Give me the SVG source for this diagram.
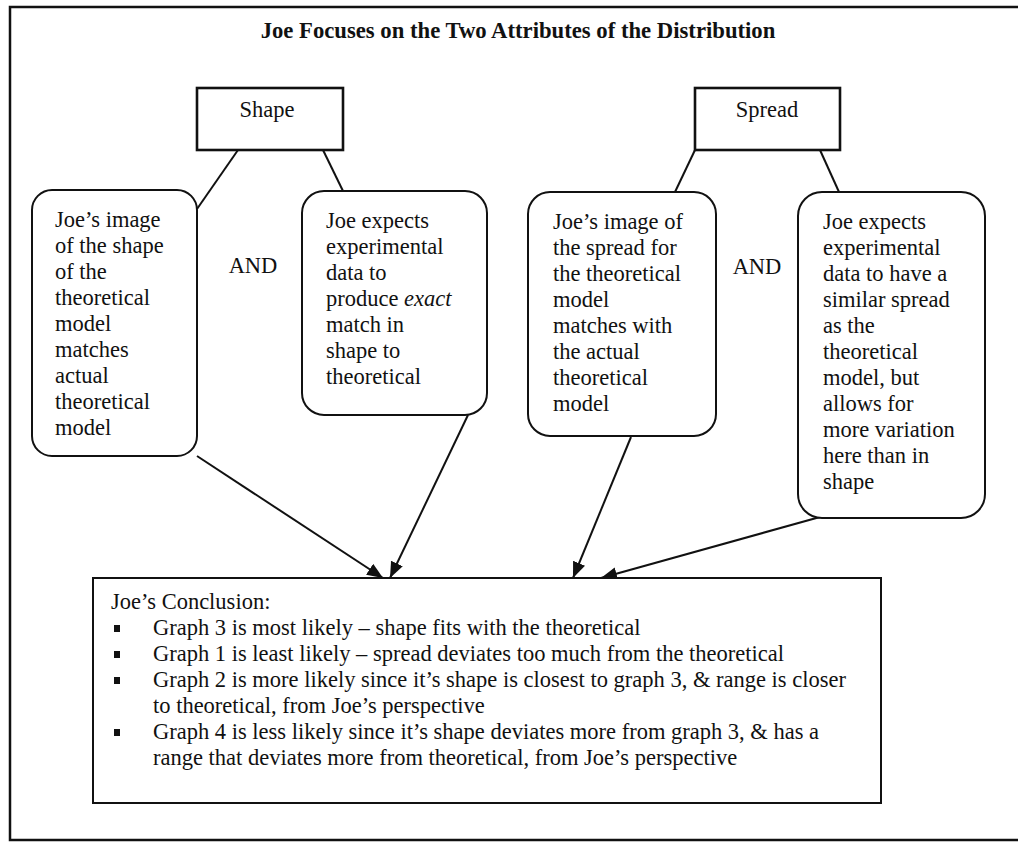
<svg xmlns="http://www.w3.org/2000/svg" width="1018" height="842" viewBox="0 0 1018 842">
<style>
  text { font-family: "Liberation Serif", "Times New Roman", serif; font-size: 22.5px; fill: #111; }
  .title { font-weight: bold; font-size: 22.7px; }
  .box { fill: #fff; stroke: #111; stroke-width: 2; }
  .hbox { fill: #fff; stroke: #111; stroke-width: 2.6; }
  .link { stroke: #111; stroke-width: 2; fill: none; }
  .arrow { stroke: #111; stroke-width: 2; fill: none; marker-end: url(#ah); }
</style>
<defs>
  <marker id="ah" markerUnits="userSpaceOnUse" markerWidth="18" markerHeight="14" refX="16" refY="6.5" orient="auto">
    <path d="M0,0 L16,6.5 L0,13 z" fill="#111"/>
  </marker>
</defs>
<rect x="0" y="0" width="1018" height="842" fill="#fff"/>
<g id="frame">
  <path d="M1020,7 L10,7 L10,840 L1020,840" fill="none" stroke="#111" stroke-width="2.5"/>
</g>
<g id="title">
  <text class="title" x="518" y="38" text-anchor="middle">Joe Focuses on the Two Attributes of the Distribution</text>
</g>
<g id="connectors">
  <line class="link" x1="238" y1="150" x2="197" y2="209"/>
  <line class="link" x1="323" y1="150" x2="343" y2="191"/>
  <line class="link" x1="695" y1="150" x2="675" y2="192"/>
  <line class="link" x1="820" y1="150" x2="839" y2="192"/>
  <line class="arrow" x1="197" y1="456" x2="383" y2="578"/>
  <line class="arrow" x1="468" y1="415" x2="390" y2="578"/>
  <line class="arrow" x1="631" y1="437" x2="573" y2="578"/>
  <line class="arrow" x1="820" y1="517" x2="601" y2="578"/>
</g>
<g id="shape">
  <rect class="hbox" x="197" y="88" width="146" height="62"/>
  <text x="267" y="117" text-anchor="middle">Shape</text>
</g>
<g id="spread">
  <rect class="hbox" x="695" y="88" width="145" height="62"/>
  <text x="767" y="117" text-anchor="middle">Spread</text>
</g>
<g id="shape-image">
  <rect class="box" x="32" y="190" width="165" height="266" rx="20"/>
  <text x="55" y="227">Joe’s image</text>
  <text x="55" y="253">of the shape</text>
  <text x="55" y="279">of the</text>
  <text x="55" y="305">theoretical</text>
  <text x="55" y="331">model</text>
  <text x="55" y="357">matches</text>
  <text x="55" y="383">actual</text>
  <text x="55" y="409">theoretical</text>
  <text x="55" y="435">model</text>
</g>
<g id="and-left">
  <text x="253" y="273" text-anchor="middle">AND</text>
</g>
<g id="shape-expect">
  <rect class="box" x="302" y="191" width="185" height="224" rx="22"/>
  <text x="326" y="228">Joe expects</text>
  <text x="326" y="254">experimental</text>
  <text x="326" y="280">data to</text>
  <text x="326" y="306">produce <tspan font-style="italic">exact</tspan></text>
  <text x="326" y="332">match in</text>
  <text x="326" y="358">shape to</text>
  <text x="326" y="384">theoretical</text>
</g>
<g id="spread-image">
  <rect class="box" x="528" y="192" width="188" height="244" rx="22"/>
  <text x="553" y="229">Joe’s image of</text>
  <text x="553" y="255">the spread for</text>
  <text x="553" y="281">the theoretical</text>
  <text x="553" y="307">model</text>
  <text x="553" y="333">matches with</text>
  <text x="553" y="359">the actual</text>
  <text x="553" y="385">theoretical</text>
  <text x="553" y="411">model</text>
</g>
<g id="and-right">
  <text x="757" y="274" text-anchor="middle">AND</text>
</g>
<g id="spread-expect">
  <rect class="box" x="798" y="192" width="187" height="326" rx="24"/>
  <text x="823" y="229">Joe expects</text>
  <text x="823" y="255">experimental</text>
  <text x="823" y="281">data to have a</text>
  <text x="823" y="307">similar spread</text>
  <text x="823" y="333">as the</text>
  <text x="823" y="359">theoretical</text>
  <text x="823" y="385">model, but</text>
  <text x="823" y="411">allows for</text>
  <text x="823" y="437">more variation</text>
  <text x="823" y="463">here than in</text>
  <text x="823" y="489">shape</text>
</g>
<g id="conclusion">
  <rect class="box" x="93" y="578" width="788" height="225"/>
  <text x="111" y="609">Joe’s Conclusion:</text>
  <rect x="114" y="625" width="6" height="7" fill="#111"/>
  <text x="153" y="635">Graph 3 is most likely – shape fits with the theoretical</text>
  <rect x="114" y="651" width="6" height="7" fill="#111"/>
  <text x="153" y="661">Graph 1 is least likely – spread deviates too much from the theoretical</text>
  <rect x="114" y="677" width="6" height="7" fill="#111"/>
  <text x="153" y="687">Graph 2 is more likely since it’s shape is closest to graph 3, &amp; range is closer</text>
  <text x="153" y="713">to theoretical, from Joe’s perspective</text>
  <rect x="114" y="729" width="6" height="7" fill="#111"/>
  <text x="153" y="739">Graph 4 is less likely since it’s shape deviates more from graph 3, &amp; has a</text>
  <text x="153" y="765">range that deviates more from theoretical, from Joe’s perspective</text>
</g>
</svg>
